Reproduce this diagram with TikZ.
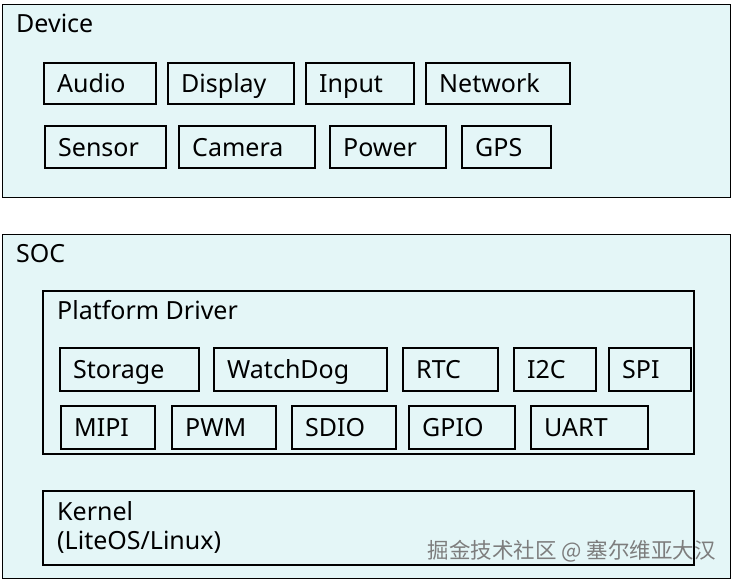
\documentclass[tikz,border=0pt]{standalone}
\usepackage{fontspec}
\setmainfont{Noto Sans}
\newfontfamily\cjkfont{Noto Sans CJK SC}
\definecolor{bgcyan}{RGB}{228,246,247}
\definecolor{wmgray}{RGB}{125,125,125}
\tikzset{
  cellbox/.style={draw=black, line width=1.6pt, fill=bgcyan, anchor=north west, inner sep=0pt},
  outerbox/.style={draw=black, line width=1.4pt, fill=bgcyan, anchor=north west, inner sep=0pt},
  lbl/.style={anchor=base west, inner sep=0pt, font=\fontsize{25}{30}\selectfont},
}
\newcommand\Cell[6]{%
  \node[cellbox, minimum width={(#4-#2)*1pt}, minimum height={(#5-#3)*1pt}] (#1) at (#2,#3) {};
  \node[lbl] (#1-t) at ([xshift=14pt, yshift=-9.5pt]#1.west) {#6};
}
\begin{document}
\begin{tikzpicture}[x=1pt,y=-1pt]
\useasboundingbox (0,0) rectangle (732,580);
% Device
\node[outerbox, minimum width=728pt, minimum height=193pt] (device) at (2,4) {};
\node[lbl] (device-t) at (16,33) {Device};
\Cell{audio}{43}{62}{155}{103}{Audio}
\Cell{display}{167}{62}{293}{103}{Display}
\Cell{input}{305}{62}{413}{103}{Input}
\Cell{network}{425}{62}{569}{103}{Network}
\Cell{sensor}{44}{125}{165}{167}{Sensor}
\Cell{camera}{178}{125}{314}{167}{Camera}
\Cell{power}{329}{125}{445}{167}{Power}
\Cell{gps}{461}{125}{550}{167}{GPS}
% SOC
\node[outerbox, minimum width=728pt, minimum height=344pt] (soc) at (2,234) {};
\node[lbl] (soc-t) at (16,263) {SOC};
\node[cellbox, minimum width=651pt, minimum height=163pt] (platform) at (42,290) {};
\node[lbl] (platform-t) at (57,320) {Platform Driver};
\Cell{storage}{59}{347}{198}{390}{Storage}
\Cell{watchdog}{213}{347}{386}{390}{WatchDog}
\Cell{rtc}{402}{347}{497}{390}{RTC}
\Cell{itwoc}{513}{347}{595}{390}{I2C}
\Cell{spi}{608}{347}{690}{390}{SPI}
\Cell{mipi}{60}{405}{154}{448}{MIPI}
\Cell{pwm}{171}{405}{275}{448}{PWM}
\Cell{sdio}{291}{405}{395}{448}{SDIO}
\Cell{gpio}{408}{405}{514}{448}{GPIO}
\Cell{uart}{530}{405}{647}{448}{UART}
\node[cellbox, minimum width=651pt, minimum height=74pt] (kernel) at (42,490) {};
\node[lbl] (kernel-t1) at (57,520) {Kernel};
\node[lbl] (kernel-t2) at (57,549) {(LiteOS/Linux)};
\node[anchor=base east, inner sep=0pt, text=wmgray, font=\cjkfont\fontsize{21.5}{26}\selectfont] (wm) at (716,558) {掘金技术社区 @ 塞尔维亚大汉};
\end{tikzpicture}
\end{document}
